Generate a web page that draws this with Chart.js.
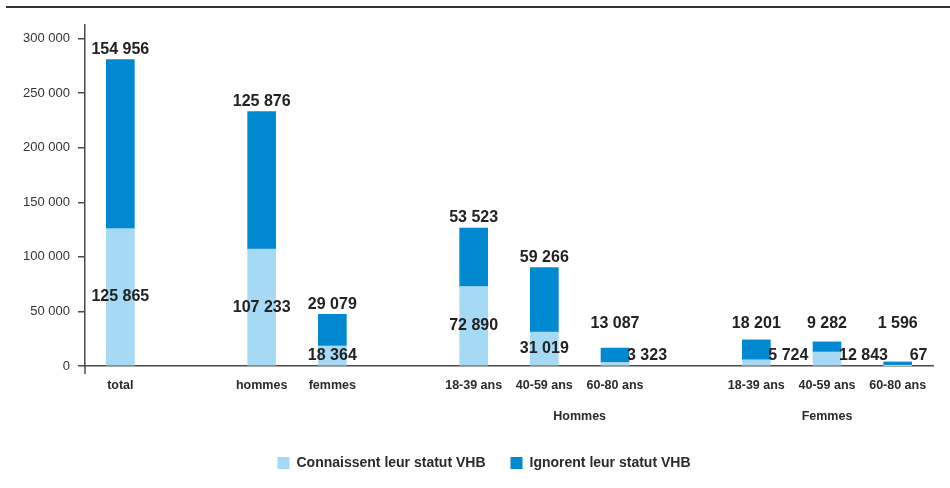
<!DOCTYPE html>
<html>
<head>
<meta charset="utf-8">
<script src="https://cdn.jsdelivr.net/npm/chart.js@4"></script>
<style>
  html, body { margin: 0; padding: 0; background: #fff; }
  #wrap { width: 950px; height: 488px; position: relative; }
</style>
</head>
<body>
<div id="wrap"><canvas id="chart"></canvas></div>
<script>
// ── Data ──────────────────────────────────────────────────────────────────────
const categories = ['total', '', 'hommes', 'femmes', '', '18-39 ans', '40-59 ans', '60-80 ans', '', '18-39 ans', '40-59 ans', '60-80 ans'];
const connaissent = [125865, null, 107233, 18364, null, 72890, 31019, 3323, null, 5724, 12843, 67];
const ignorent = [154956, null, 125876, 29079, null, 53523, 59266, 13087, null, 18201, 9282, 1596];
const groupLabels = ['Hommes', 'Femmes'];
const groupAnchors = [6.5, 10];
const yTicks = [0, 50000, 100000, 150000, 200000, 250000, 300000];

const LIGHT = '#a6d9f3';
const DARK = '#0088d1';
const SANS = '"Liberation Sans", Arial, sans-serif';

function fmt(v) { return String(v).replace(/\B(?=(\d{3})+(?!\d))/g, ' '); }

// ── Labels, group names and frame lines ───────────────────────────────────────
const annotate = {
  id: 'annotate',
  afterLayout(chart) {
    // nudge legend to where the original sits
    const lg = chart.legend;
    lg.left += 17.5; lg.right += 17.5;
    lg.top -= 8; lg.bottom -= 8;
  },
  afterDatasetsDraw(chart) {
    const ctx = chart.ctx;
    const area = chart.chartArea;
    const y = chart.scales.y, x = chart.scales.x;
    const zero = y.getPixelForValue(0);
    const m0 = chart.getDatasetMeta(0), m1 = chart.getDatasetMeta(1);
    ctx.save();
    ctx.fillStyle = '#222';
    ctx.font = 'bold 16px ' + SANS;
    ctx.textBaseline = 'middle';
    categories.forEach((c, i) => {
      if (connaissent[i] == null) return;
      const lb = m0.data[i], db = m1.data[i];
      const segH = lb.base - lb.y;
      if (segH >= 18) {
        ctx.textAlign = 'center';
        ctx.fillText(fmt(connaissent[i]), lb.x, (lb.y + lb.base) / 2);
      } else {
        ctx.textAlign = 'left';
        ctx.fillText(fmt(connaissent[i]), lb.x + lb.width / 2 - 2, zero - 10);
      }
      ctx.textAlign = 'center';
      ctx.fillText(fmt(ignorent[i]), db.x, Math.min(db.y - 10, zero - 42));
    });
    // group names under the age bars
    ctx.font = 'bold 12.5px ' + SANS;
    ctx.fillStyle = '#2a2a2a';
    groupLabels.forEach((g, k) => {
      ctx.fillText(g, x.getPixelForValue(groupAnchors[k]), 417);
    });
    // axis stub below zero and top rule
    ctx.strokeStyle = '#4a4a4a';
    ctx.lineWidth = 1.5;
    ctx.beginPath();
    ctx.moveTo(area.left, zero);
    ctx.lineTo(area.left, zero + 8);
    ctx.stroke();
    ctx.strokeStyle = '#333';
    ctx.lineWidth = 2;
    ctx.beginPath();
    ctx.moveTo(6, 7);
    ctx.lineTo(950, 7);
    ctx.stroke();
    ctx.restore();
  }
};

new Chart(document.getElementById('chart'), {
  type: 'bar',
  data: {
    labels: categories,
    datasets: [
      { label: 'Connaissent leur statut VHB', data: connaissent, backgroundColor: LIGHT, barThickness: 28, skipNull: true },
      { label: 'Ignorent leur statut VHB', data: ignorent, backgroundColor: DARK, barThickness: 28, minBarLength: 4, skipNull: true }
    ]
  },
  options: {
    responsive: true,
    maintainAspectRatio: false,
    animation: false,
    layout: { padding: { top: 25, left: 0, right: 17, bottom: 0 } },
    plugins: {
      tooltip: { enabled: false },
      legend: {
        position: 'bottom',
        labels: {
          boxWidth: 12,
          boxHeight: 12,
          padding: 25,
          color: '#2a2a2a',
          font: { family: SANS, size: 14, weight: 'bold', lineHeight: 1 }
        }
      }
    },
    scales: {
      x: {
        stacked: true,
        grid: { display: false, drawTicks: false },
        border: { display: true, color: '#4a4a4a', width: 1.5 },
        ticks: {
          color: '#2a2a2a',
          padding: 12,
          autoSkip: false,
          maxRotation: 0,
          font: { family: SANS, size: 12.5, weight: 'bold' }
        },
        afterFit(scale) { scale.height = 73; }
      },
      y: {
        stacked: true,
        min: 0,
        max: 312500,
        grid: { drawOnChartArea: false, drawTicks: true, tickLength: 7, color: '#4a4a4a', lineWidth: 1.5 },
        border: { display: true, color: '#4a4a4a', width: 1.5 },
        afterBuildTicks(scale) { scale.ticks = yTicks.map(v => ({ value: v })); },
        ticks: {
          padding: 8,
          color: '#333',
          font: { family: SANS, size: 13 },
          callback: v => fmt(v)
        },
        afterFit(scale) { scale.width = 85; }
      }
    }
  },
  plugins: [annotate]
});
</script>
</body>
</html>
